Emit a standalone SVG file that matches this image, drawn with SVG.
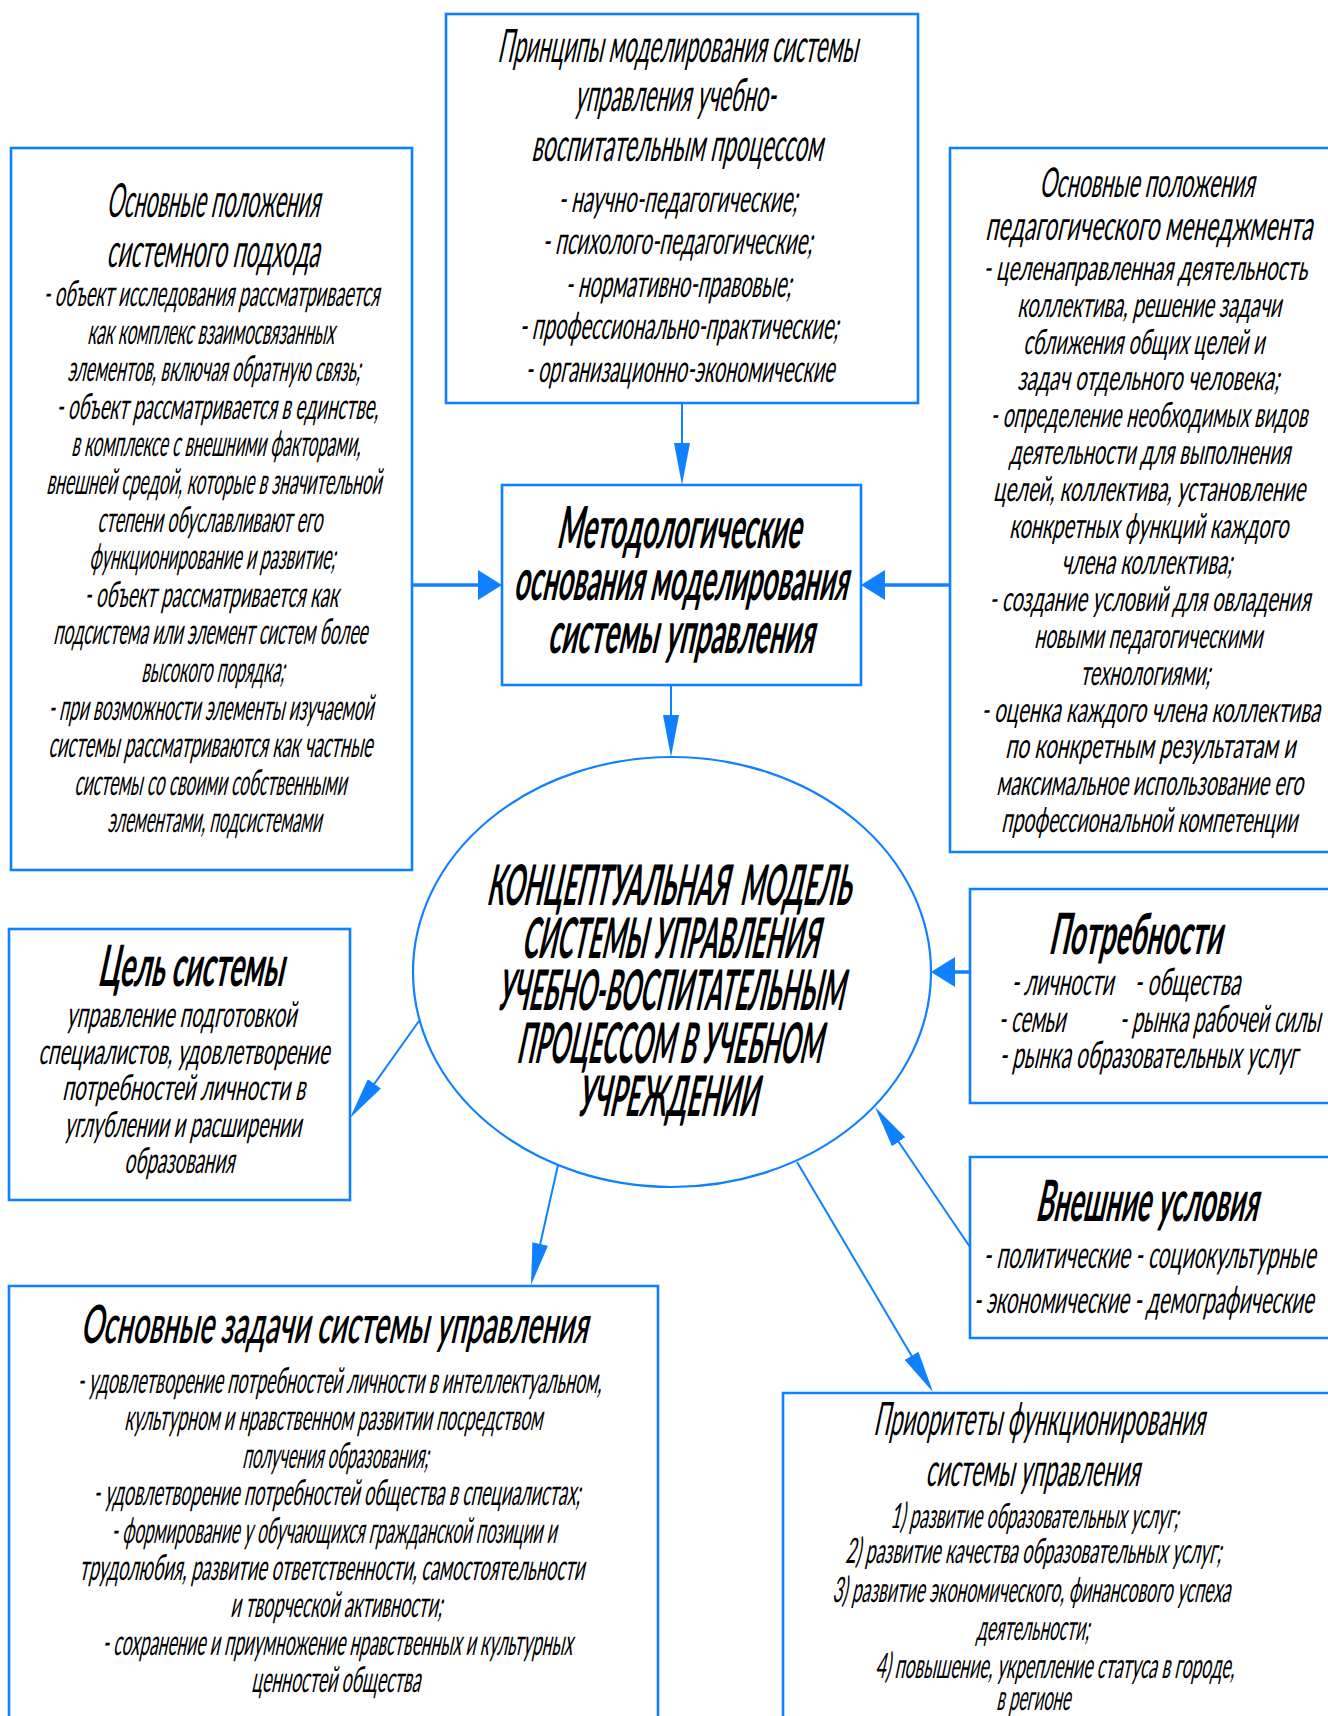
<svg xmlns="http://www.w3.org/2000/svg" width="1328" height="1716" viewBox="0 0 1328 1716">
<style>
.box{fill:#fff;stroke:#0f80ff;stroke-width:2.6}
.open{fill:none;stroke:#0f80ff;stroke-width:2.6}
.ell{fill:#fff;stroke:#0f80ff;stroke-width:2.2}
.c{fill:none;stroke:#0f80ff;stroke-width:2}
.ct{fill:none;stroke:#0f80ff;stroke-width:3.5}
text{font-family:Lato,"DejaVu Sans","Liberation Sans",sans-serif;font-weight:400;fill:#000}
.s46{font-size:46px}.s38{font-size:38px}.s47{font-size:47px}.s36{font-size:36px}.s41{font-size:41px}.s35{font-size:35px}
.s58{font-size:58px;font-weight:700}.s56{font-size:56px;font-weight:700}.s57{font-size:57px;font-weight:700}.s53{font-size:53px;font-weight:600}
</style>
<defs>
<marker id="al" viewBox="0 0 42 16" refX="36" refY="8" markerWidth="42" markerHeight="16" markerUnits="userSpaceOnUse" orient="auto"><path d="M0,0 L42,8 L0,16 Z" fill="#0f80ff"/></marker>
<marker id="as" viewBox="0 0 24 30" refX="21" refY="15" markerWidth="24" markerHeight="30" markerUnits="userSpaceOnUse" orient="auto"><path d="M0,0 L24,15 L0,30 Z" fill="#0f80ff"/></marker>
</defs>
<rect width="1328" height="1716" fill="#fff"/>

<g id="principles">
<rect class="box" x="446" y="14" width="472" height="389"/>
<text class="s46" transform="translate(497,62) skewX(-12)" textLength="360" lengthAdjust="spacingAndGlyphs">Принципы моделирования системы</text>
<text class="s46" transform="translate(574,111) skewX(-12)" textLength="201" lengthAdjust="spacingAndGlyphs">управления учебно-</text>
<text class="s46" transform="translate(531,161) skewX(-12)" textLength="291" lengthAdjust="spacingAndGlyphs">воспитательным процессом</text>
<text class="s38" transform="translate(558,212) skewX(-12)" textLength="239" lengthAdjust="spacingAndGlyphs">- научно-педагогические;</text>
<text class="s38" transform="translate(542,254) skewX(-12)" textLength="270" lengthAdjust="spacingAndGlyphs">- психолого-педагогические;</text>
<text class="s38" transform="translate(565,297) skewX(-12)" textLength="226" lengthAdjust="spacingAndGlyphs">- нормативно-правовые;</text>
<text class="s38" transform="translate(519,339) skewX(-12)" textLength="319" lengthAdjust="spacingAndGlyphs">- профессионально-практические;</text>
<text class="s38" transform="translate(525,382) skewX(-12)" textLength="309" lengthAdjust="spacingAndGlyphs">- организационно-экономические</text>
</g>

<g id="system-approach">
<rect class="box" x="11" y="148" width="401" height="722"/>
<text class="s47" transform="translate(106,217) skewX(-12)" textLength="213" lengthAdjust="spacingAndGlyphs">Основные положения</text>
<text class="s47" transform="translate(106,267) skewX(-12)" textLength="213" lengthAdjust="spacingAndGlyphs">системного подхода</text>
<text class="s36" transform="translate(43,306) skewX(-12)" textLength="336" lengthAdjust="spacingAndGlyphs">- объект исследования рассматривается</text>
<text class="s36" transform="translate(87,344) skewX(-12)" textLength="247" lengthAdjust="spacingAndGlyphs">как комплекс взаимосвязанных</text>
<text class="s36" transform="translate(67,381) skewX(-12)" textLength="293" lengthAdjust="spacingAndGlyphs">элементов, включая обратную связь;</text>
<text class="s36" transform="translate(56,419) skewX(-12)" textLength="322" lengthAdjust="spacingAndGlyphs">- объект рассматривается в единстве,</text>
<text class="s36" transform="translate(71,456) skewX(-12)" textLength="289" lengthAdjust="spacingAndGlyphs">в комплексе с внешними факторами,</text>
<text class="s36" transform="translate(46,494) skewX(-12)" textLength="335" lengthAdjust="spacingAndGlyphs">внешней средой, которые в значительной</text>
<text class="s36" transform="translate(97,532) skewX(-12)" textLength="225" lengthAdjust="spacingAndGlyphs">степени обуславливают его</text>
<text class="s36" transform="translate(89,569) skewX(-12)" textLength="246" lengthAdjust="spacingAndGlyphs">функционирование и развитие;</text>
<text class="s36" transform="translate(84,607) skewX(-12)" textLength="254" lengthAdjust="spacingAndGlyphs">- объект рассматривается как</text>
<text class="s36" transform="translate(53,644) skewX(-12)" textLength="314" lengthAdjust="spacingAndGlyphs">подсистема или элемент систем более</text>
<text class="s36" transform="translate(141,682) skewX(-12)" textLength="143" lengthAdjust="spacingAndGlyphs">высокого порядка;</text>
<text class="s36" transform="translate(48,720) skewX(-12)" textLength="325" lengthAdjust="spacingAndGlyphs">- при возможности элементы изучаемой</text>
<text class="s36" transform="translate(48,757) skewX(-12)" textLength="324" lengthAdjust="spacingAndGlyphs">системы рассматриваются как частные</text>
<text class="s36" transform="translate(74,795) skewX(-12)" textLength="272" lengthAdjust="spacingAndGlyphs">системы со своими собственными</text>
<text class="s36" transform="translate(107,832) skewX(-12)" textLength="214" lengthAdjust="spacingAndGlyphs">элементами, подсистемами</text>
</g>

<g id="pedagogical-management">
<path class="open" d="M1328,148 H950 V852 H1328"/>
<text class="s41" transform="translate(1039,197) skewX(-12)" textLength="215" lengthAdjust="spacingAndGlyphs">Основные положения</text>
<text class="s41" transform="translate(985,240) skewX(-12)" textLength="327" lengthAdjust="spacingAndGlyphs">педагогического менеджмента</text>
<text class="s35" transform="translate(983,280) skewX(-12)" textLength="324" lengthAdjust="spacingAndGlyphs">- целенаправленная деятельность</text>
<text class="s35" transform="translate(1017,317) skewX(-12)" textLength="264" lengthAdjust="spacingAndGlyphs">коллектива, решение задачи</text>
<text class="s35" transform="translate(1023,354) skewX(-12)" textLength="241" lengthAdjust="spacingAndGlyphs">сближения общих целей и</text>
<text class="s35" transform="translate(1017,390) skewX(-12)" textLength="262" lengthAdjust="spacingAndGlyphs">задач отдельного человека;</text>
<text class="s35" transform="translate(990,427) skewX(-12)" textLength="317" lengthAdjust="spacingAndGlyphs">- определение необходимых видов</text>
<text class="s35" transform="translate(1009,464) skewX(-12)" textLength="281" lengthAdjust="spacingAndGlyphs">деятельности для выполнения</text>
<text class="s35" transform="translate(993,501) skewX(-12)" textLength="312" lengthAdjust="spacingAndGlyphs">целей, коллектива, установление</text>
<text class="s35" transform="translate(1009,538) skewX(-12)" textLength="279" lengthAdjust="spacingAndGlyphs">конкретных функций каждого</text>
<text class="s35" transform="translate(1061,574) skewX(-12)" textLength="171" lengthAdjust="spacingAndGlyphs">члена коллектива;</text>
<text class="s35" transform="translate(989,611) skewX(-12)" textLength="321" lengthAdjust="spacingAndGlyphs">- создание условий для овладения</text>
<text class="s35" transform="translate(1034,648) skewX(-12)" textLength="228" lengthAdjust="spacingAndGlyphs">новыми педагогическими</text>
<text class="s35" transform="translate(1080,685) skewX(-12)" textLength="130" lengthAdjust="spacingAndGlyphs">технологиями;</text>
<text class="s35" transform="translate(981,722) skewX(-12)" textLength="339" lengthAdjust="spacingAndGlyphs">- оценка каждого члена коллектива</text>
<text class="s35" transform="translate(1005,758) skewX(-12)" textLength="290" lengthAdjust="spacingAndGlyphs">по конкретным результатам и</text>
<text class="s35" transform="translate(996,795) skewX(-12)" textLength="307" lengthAdjust="spacingAndGlyphs">максимальное использование его</text>
<text class="s35" transform="translate(1001,832) skewX(-12)" textLength="296" lengthAdjust="spacingAndGlyphs">профессиональной компетенции</text>
</g>

<g id="methodology">
<rect class="box" x="502" y="485" width="359" height="200"/>
<text class="s58" transform="translate(556,548) skewX(-12)" textLength="244" lengthAdjust="spacingAndGlyphs">Методологические</text>
<text class="s58" transform="translate(513,600) skewX(-12)" textLength="334" lengthAdjust="spacingAndGlyphs">основания моделирования</text>
<text class="s58" transform="translate(547,653) skewX(-12)" textLength="266" lengthAdjust="spacingAndGlyphs">системы управления</text>
</g>

<g id="concept-model">
<ellipse class="ell" cx="672" cy="972" rx="259" ry="215"/>
<text class="s56" xml:space="preserve" transform="translate(486,905) skewX(-12)" textLength="364" lengthAdjust="spacingAndGlyphs">КОНЦЕПТУАЛЬНАЯ  МОДЕЛЬ</text>
<text class="s56" transform="translate(521,958) skewX(-12)" textLength="297" lengthAdjust="spacingAndGlyphs">СИСТЕМЫ УПРАВЛЕНИЯ</text>
<text class="s56" transform="translate(496,1010) skewX(-12)" textLength="347" lengthAdjust="spacingAndGlyphs">УЧЕБНО-ВОСПИТАТЕЛЬНЫМ</text>
<text class="s56" transform="translate(516,1063) skewX(-12)" textLength="305" lengthAdjust="spacingAndGlyphs">ПРОЦЕССОМ В УЧЕБНОМ</text>
<text class="s56" transform="translate(576,1116) skewX(-12)" textLength="181" lengthAdjust="spacingAndGlyphs">УЧРЕЖДЕНИИ</text>
</g>

<g id="goal">
<rect class="box" x="9" y="929" width="341" height="271"/>
<text class="s57" transform="translate(97,986) skewX(-12)" textLength="186" lengthAdjust="spacingAndGlyphs">Цель системы</text>
<text class="s36" transform="translate(66,1027) skewX(-12)" textLength="230" lengthAdjust="spacingAndGlyphs">управление подготовкой</text>
<text class="s36" transform="translate(38,1064) skewX(-12)" textLength="291" lengthAdjust="spacingAndGlyphs">специалистов, удовлетворение</text>
<text class="s36" transform="translate(62,1100) skewX(-12)" textLength="243" lengthAdjust="spacingAndGlyphs">потребностей личности в</text>
<text class="s36" transform="translate(64,1137) skewX(-12)" textLength="237" lengthAdjust="spacingAndGlyphs">углублении и расширении</text>
<text class="s36" transform="translate(124,1173) skewX(-12)" textLength="110" lengthAdjust="spacingAndGlyphs">образования</text>
</g>

<g id="needs">
<path class="open" d="M1328,889 H970 V1103 H1328"/>
<text class="s57" transform="translate(1048,954) skewX(-12)" textLength="173" lengthAdjust="spacingAndGlyphs">Потребности</text>
<text class="s38" transform="translate(1011,995) skewX(-12)" textLength="102" lengthAdjust="spacingAndGlyphs">- личности</text>
<text class="s38" transform="translate(1134,995) skewX(-12)" textLength="106" lengthAdjust="spacingAndGlyphs">- общества</text>
<text class="s38" transform="translate(998,1032) skewX(-12)" textLength="67" lengthAdjust="spacingAndGlyphs">- семьи</text>
<text class="s38" transform="translate(1119,1032) skewX(-12)" textLength="201" lengthAdjust="spacingAndGlyphs">- рынка рабочей силы</text>
<text class="s38" transform="translate(999,1068) skewX(-12)" textLength="298" lengthAdjust="spacingAndGlyphs">- рынка образовательных услуг</text>
</g>

<g id="external">
<path class="open" d="M1328,1157 H970 V1338 H1328"/>
<text class="s57" transform="translate(1035,1221) skewX(-12)" textLength="222" lengthAdjust="spacingAndGlyphs">Внешние условия</text>
<text class="s38" transform="translate(983,1268) skewX(-12)" textLength="332" lengthAdjust="spacingAndGlyphs">- политические - социокультурные</text>
<text class="s38" transform="translate(973,1313) skewX(-12)" textLength="340" lengthAdjust="spacingAndGlyphs">- экономические - демографические</text>
</g>

<g id="tasks">
<path class="open" d="M9,1716 V1286 H658 V1716"/>
<text class="s53" transform="translate(80,1343) skewX(-12)" textLength="507" lengthAdjust="spacingAndGlyphs">Основные задачи системы управления</text>
<text class="s36" transform="translate(77,1393) skewX(-12)" textLength="524" lengthAdjust="spacingAndGlyphs">- удовлетворение потребностей личности в интеллектуальном,</text>
<text class="s36" transform="translate(124,1430) skewX(-12)" textLength="418" lengthAdjust="spacingAndGlyphs">культурном и нравственном развитии посредством</text>
<text class="s36" transform="translate(242,1468) skewX(-12)" textLength="186" lengthAdjust="spacingAndGlyphs">получения образования;</text>
<text class="s36" transform="translate(93,1505) skewX(-12)" textLength="487" lengthAdjust="spacingAndGlyphs">- удовлетворение потребностей общества в специалистах;</text>
<text class="s36" transform="translate(111,1543) skewX(-12)" textLength="445" lengthAdjust="spacingAndGlyphs">- формирование у обучающихся гражданской позиции и</text>
<text class="s36" transform="translate(79,1580) skewX(-12)" textLength="505" lengthAdjust="spacingAndGlyphs">трудолюбия, развитие ответственности, самостоятельности</text>
<text class="s36" transform="translate(230,1617) skewX(-12)" textLength="212" lengthAdjust="spacingAndGlyphs">и творческой активности;</text>
<text class="s36" transform="translate(102,1655) skewX(-12)" textLength="470" lengthAdjust="spacingAndGlyphs">- сохранение и приумножение нравственных и культурных</text>
<text class="s36" transform="translate(251,1692) skewX(-12)" textLength="169" lengthAdjust="spacingAndGlyphs">ценностей общества</text>
</g>

<g id="priorities">
<path class="open" d="M783,1716 V1393 H1328"/>
<text class="s46" transform="translate(873,1435) skewX(-12)" textLength="331" lengthAdjust="spacingAndGlyphs">Приоритеты функционирования</text>
<text class="s46" transform="translate(925,1486) skewX(-12)" textLength="214" lengthAdjust="spacingAndGlyphs">системы управления</text>
<text class="s35" transform="translate(890,1528) skewX(-12)" textLength="288" lengthAdjust="spacingAndGlyphs">1) развитие образовательных услуг;</text>
<text class="s35" transform="translate(845,1563) skewX(-12)" textLength="376" lengthAdjust="spacingAndGlyphs">2) развитие качества образовательных услуг;</text>
<text class="s35" transform="translate(832,1602) skewX(-12)" textLength="398" lengthAdjust="spacingAndGlyphs">3) развитие экономического, финансового успеха</text>
<text class="s35" transform="translate(976,1640) skewX(-12)" textLength="113" lengthAdjust="spacingAndGlyphs">деятельности;</text>
<text class="s35" transform="translate(875,1678) skewX(-12)" textLength="359" lengthAdjust="spacingAndGlyphs">4) повышение, укрепление статуса в городе,</text>
<text class="s35" transform="translate(996,1710) skewX(-12)" textLength="74" lengthAdjust="spacingAndGlyphs">в регионе</text>
</g>

<g id="connectors">
<path class="c" d="M682,403 L682,479" marker-end="url(#al)"/>
<path class="c" d="M671,686 L671,751" marker-end="url(#al)"/>
<path class="ct" d="M412,585 L499,585" marker-end="url(#as)"/>
<path class="ct" d="M950,585 L864,585" marker-end="url(#as)"/>
<path class="ct" d="M970,972 L934,972" marker-end="url(#as)"/>
<path class="c" d="M970,1247 L878.4,1112" marker-end="url(#al)"/>
<path class="c" d="M419,1021 L353.5,1113.1" marker-end="url(#al)"/>
<path class="c" d="M558,1165 L532.3,1279.1" marker-end="url(#al)"/>
<path class="c" d="M797,1162 L929.9,1386.8" marker-end="url(#al)"/>
</g>
</svg>
